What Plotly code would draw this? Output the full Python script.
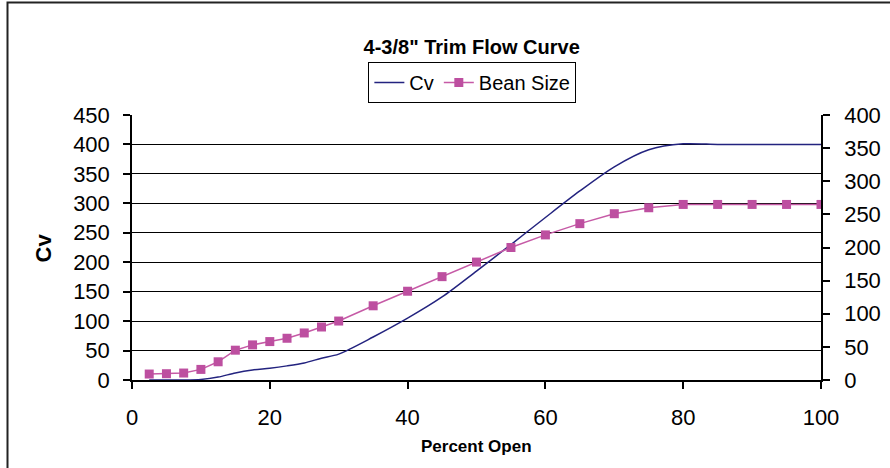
import plotly.graph_objects as go

# ---- data ----
percent_open = [2.5, 5, 7.5, 10, 12.5, 15, 17.5, 20, 22.5, 25, 27.5, 30,
                35, 40, 45, 50, 55, 60, 65, 70, 75, 80, 85, 90, 95, 100]
cv_values = [0, 0, 0, 1, 5, 12, 17, 20, 24, 29, 37, 44,
             73, 105, 141, 185, 230, 276, 321, 362, 391, 401, 400, 400, 400, 400]
bean_size = [9, 9.5, 10.5, 16, 27.5, 45, 53, 58, 63, 71, 80, 89,
             112, 134, 156, 178, 200, 219, 236, 251, 260, 265, 265, 265, 265, 265]

x_ticks = [0, 20, 40, 60, 80, 100]
left_ticks = list(range(0, 451, 50))
right_ticks = list(range(0, 401, 50))

title_text = '4-3/8" Trim Flow Curve'
x_title = "Percent Open"
y_title = "Cv"

FONT = "Liberation Sans, Arial, sans-serif"
NAVY = "#23237F"
MAGENTA = "#BD4FA0"

fig = go.Figure()
fig.add_trace(go.Scatter(
    x=percent_open, y=cv_values, name="Cv", mode="lines",
    line=dict(color=NAVY, width=1.5, shape="spline", smoothing=0.8),
    yaxis="y"))
fig.add_trace(go.Scatter(
    x=percent_open, y=bean_size, name="Bean Size", mode="lines+markers",
    line=dict(color="#C65AA6", width=1.5),
    marker=dict(symbol="square", size=9, color=MAGENTA),
    yaxis="y2"))

axis_common = dict(showline=True, linecolor="black", linewidth=1.5,
                   ticks="outside", ticklen=7, tickcolor="black", tickwidth=1.5,
                   automargin=False,
                   tickfont=dict(family=FONT, size=22, color="black"))
overlay_common = dict(showline=False, ticks="inside", ticklen=7, tickcolor="black",
                      tickwidth=1.5, showticklabels=False, showgrid=False,
                      zeroline=False, automargin=False, anchor="x")

fig.update_layout(
    width=890, height=468,
    margin=dict(l=132, r=69, t=115, b=88),
    paper_bgcolor="white", plot_bgcolor="white",
    font=dict(family=FONT, color="black"),
    hovermode=False,
    title=dict(text="<b>" + title_text + "</b>", x=0.53, xanchor="center",
               y=1 - 47 / 468, yanchor="middle",
               font=dict(family=FONT, size=20, color="black")),
    showlegend=True,
    legend=dict(orientation="h", x=0.494, xanchor="center", y=1.2, yanchor="top",
                bordercolor="black", borderwidth=1, bgcolor="white",
                font=dict(family=FONT, size=20, color="black"),
                itemwidth=30, tracegroupgap=0),
    xaxis=dict(range=[0, 100], tickvals=x_ticks, showgrid=False, zeroline=False,
               ticklabelstandoff=10, **axis_common),
    xaxis2=dict(range=[0, 100], overlaying="x", side="top", anchor="y",
                showline=True, linecolor="#808080", linewidth=1.5, automargin=False,
                showticklabels=False, ticks="", showgrid=False, zeroline=False),
    yaxis=dict(range=[0, 450], tickvals=left_ticks, showgrid=True,
               gridcolor="black", gridwidth=1, zeroline=False,
               ticklabelstandoff=9, **axis_common),
    yaxis2=dict(range=[0, 400], tickvals=right_ticks, overlaying="y", side="right",
                showgrid=False, zeroline=False, ticklabelstandoff=10, **axis_common),
    yaxis3=dict(range=[0, 450], tickvals=left_ticks, overlaying="y", side="left",
                **overlay_common),
    yaxis4=dict(range=[0, 400], tickvals=right_ticks, overlaying="y", side="right",
                **overlay_common),
    annotations=[
        dict(text="<b>" + x_title + "</b>", xref="paper", yref="paper",
             x=(476 - 132) / 689, y=(380 - 446) / 265, xanchor="center", yanchor="middle",
             showarrow=False, font=dict(family=FONT, size=17, color="black")),
        dict(text="<b>" + y_title + "</b>", xref="paper", yref="paper",
             x=(43 - 132) / 689, y=0.5, xanchor="center", yanchor="middle",
             textangle=-90, showarrow=False,
             font=dict(family=FONT, size=22, color="black")),
    ],
    shapes=[
        dict(type="rect", xref="paper", yref="paper",
             x0=(7.5 - 132) / 689, x1=(900 - 132) / 689,
             y0=(380 - 480) / 265, y1=(380 - 2.5) / 265,
             line=dict(color="#222222", width=2), layer="below"),
    ],
)

fig.write_html("out.html", config={"displayModeBar": False},
               post_script="document.body.style.margin='0';document.body.style.overflow='hidden';")
